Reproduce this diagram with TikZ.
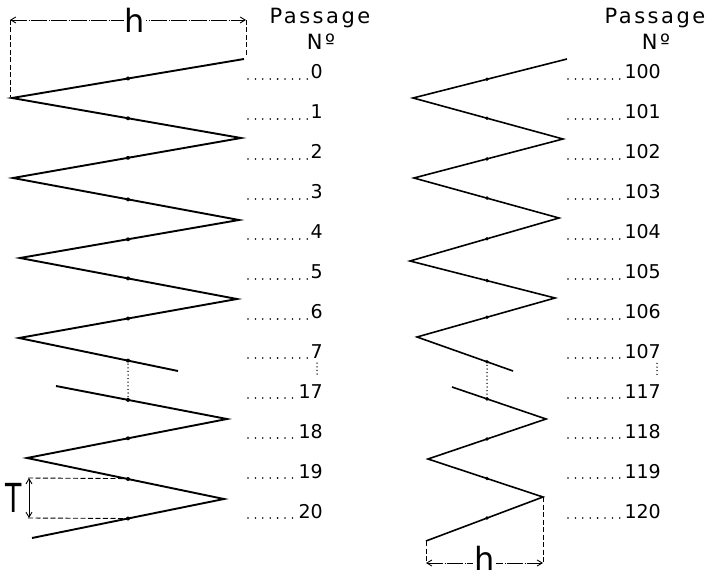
\documentclass[tikz,border=0pt]{standalone}
\usepackage{fontspec}
\setmainfont{DejaVu Sans}
\usepackage{graphicx}
\usetikzlibrary{arrows.meta}
\tikzset{
  zigzag/.style={black, line width=1.9pt, line join=miter},
  leader/.style={black, line width=1.8pt, line cap=round, dash pattern=on 0pt off 7.4pt},
  gapline/.style={black, line width=1.5pt, line cap=round, dash pattern=on 0pt off 3.6pt},
  passno/.style={anchor=base east, inner sep=0pt, font=\fontsize{19}{19}\selectfont},
  heading/.style={anchor=base, inner sep=0pt, font=\fontsize{21}{21}\selectfont\addfontfeature{LetterSpace=12}},
  dimline/.style={black, line width=0.9pt, dash pattern=on 16pt off 1.5pt on 1pt off 1.5pt,
    {Straight Barb[length=5pt,width=6pt]}-{Straight Barb[length=5pt,width=6pt]}},
  extline/.style={black, line width=0.9pt, dash pattern=on 5pt off 2.5pt},
  dimlabel/.style={fill=white, inner sep=1pt, font=\fontsize{32}{32}\selectfont}
}

\begin{document}
\begin{tikzpicture}[x=1pt, y=-1pt]
  \useasboundingbox (0,0) rectangle (712,577);

  % Left spiral, passages 0 to 7
  \draw[zigzag] (244, 59)
    \foreach \x/\y in {12/98, 241/138, 13/178, 239/220, 20/258, 237/299, 19/338, 178/371} {
      -- (\x, \y)
  };

  % Left spiral, passages 17 to 20
  \draw[zigzag] (56, 386)
    \foreach \x/\y in {227/419, 27/458, 224/499, 32/538} {
      -- (\x, \y)
  };

  % Right spiral, passages 100 to 107
  \draw[zigzag, line width=1.6pt] (567, 59)
    \foreach \x/\y in {413/98, 563/139, 414/178, 559/218, 410/261, 555/298, 417/337, 513/371} {
      -- (\x, \y)
  };

  % Right spiral, passages 117 to 120
  \draw[zigzag, line width=1.6pt] (452, 387)
    \foreach \x/\y in {546/419, 428/459, 543/497, 426/541} {
      -- (\x, \y)
  };

  % Axis dots
  \foreach \y in {78.5, 118.3, 157.8, 199.4, 239.3, 278.4, 318.5, 360.6, 399.9, 438.3, 479, 518.5} {
    \fill (128, \y) circle (2pt);
  }
  \foreach \y in {79.3, 118.2, 158.9, 198.1, 238.8, 280.6, 317.2, 361.8, 398.9, 439, 478.5, 518} {
    \fill (487, \y) circle (1.9pt);
  }

  % Skipped passages
  \draw[gapline] (128, 360.6) -- (128, 399.9);
  \draw[gapline] (487, 361.8) -- (487, 398.9);

  % Passage numbers
  \node[heading] (headl) at (320, 24) {Passage};
  \node[heading] (nol) at (321, 50) {Nº};
  \node[heading] (headr) at (655, 24) {Passage};
  \node[heading] (nor) at (656, 50) {Nº};

  \foreach \n/\y in {0/79, 1/119, 2/159, 3/199, 4/239, 5/279, 6/319, 7/358,
                     17/398, 18/438, 19/478, 20/518} {
    \node[passno] (nl\n) at (323, \y) {\n};
    \draw[leader] (248, \y) -- ([xshift=-3pt]nl\n.base west);
  }
  \foreach \n/\y in {100/79, 101/119, 102/159, 103/199, 104/239, 105/279, 106/319, 107/358,
                     117/398, 118/438, 119/478, 120/518} {
    \node[passno] (nr\n) at (661, \y) {\n};
    \draw[leader] (568, \y) -- ([xshift=-3pt]nr\n.base west);
  }

  \draw[gapline] ([xshift=-6pt, yshift=-5pt]nl7.south east) -- ([xshift=-6pt, yshift=8pt]nl17.north east);
  \draw[gapline] ([xshift=-4pt, yshift=-5pt]nr107.south east) -- ([xshift=-4pt, yshift=8pt]nr117.north east);

  % Width h, top
  \draw[extline] (10, 20) -- (10, 97);
  \draw[extline] (246, 20) -- (246, 57);
  \draw[dimline] (10, 20) -- node[dimlabel, pos=0.53] (htop) {h} (246, 20);

  % Width h, bottom
  \draw[extline] (426, 541) -- (426, 563);
  \draw[extline] (543, 497) -- (543, 563);
  \draw[dimline] (426, 563) -- node[dimlabel, yshift=5pt] (hbot) {h} (543, 563);

  % Pitch T
  \draw[extline] (28, 478) -- (128, 478.6);
  \draw[extline] (28, 518) -- (128, 518.5);
  \draw[dimline, solid] (29, 478) -- (29, 518);
  \node[font=\fontsize{40}{40}\selectfont, inner sep=0pt] (tlab) at (14, 498) {\scalebox{0.67}[1]{T}};

\end{tikzpicture}
\end{document}
